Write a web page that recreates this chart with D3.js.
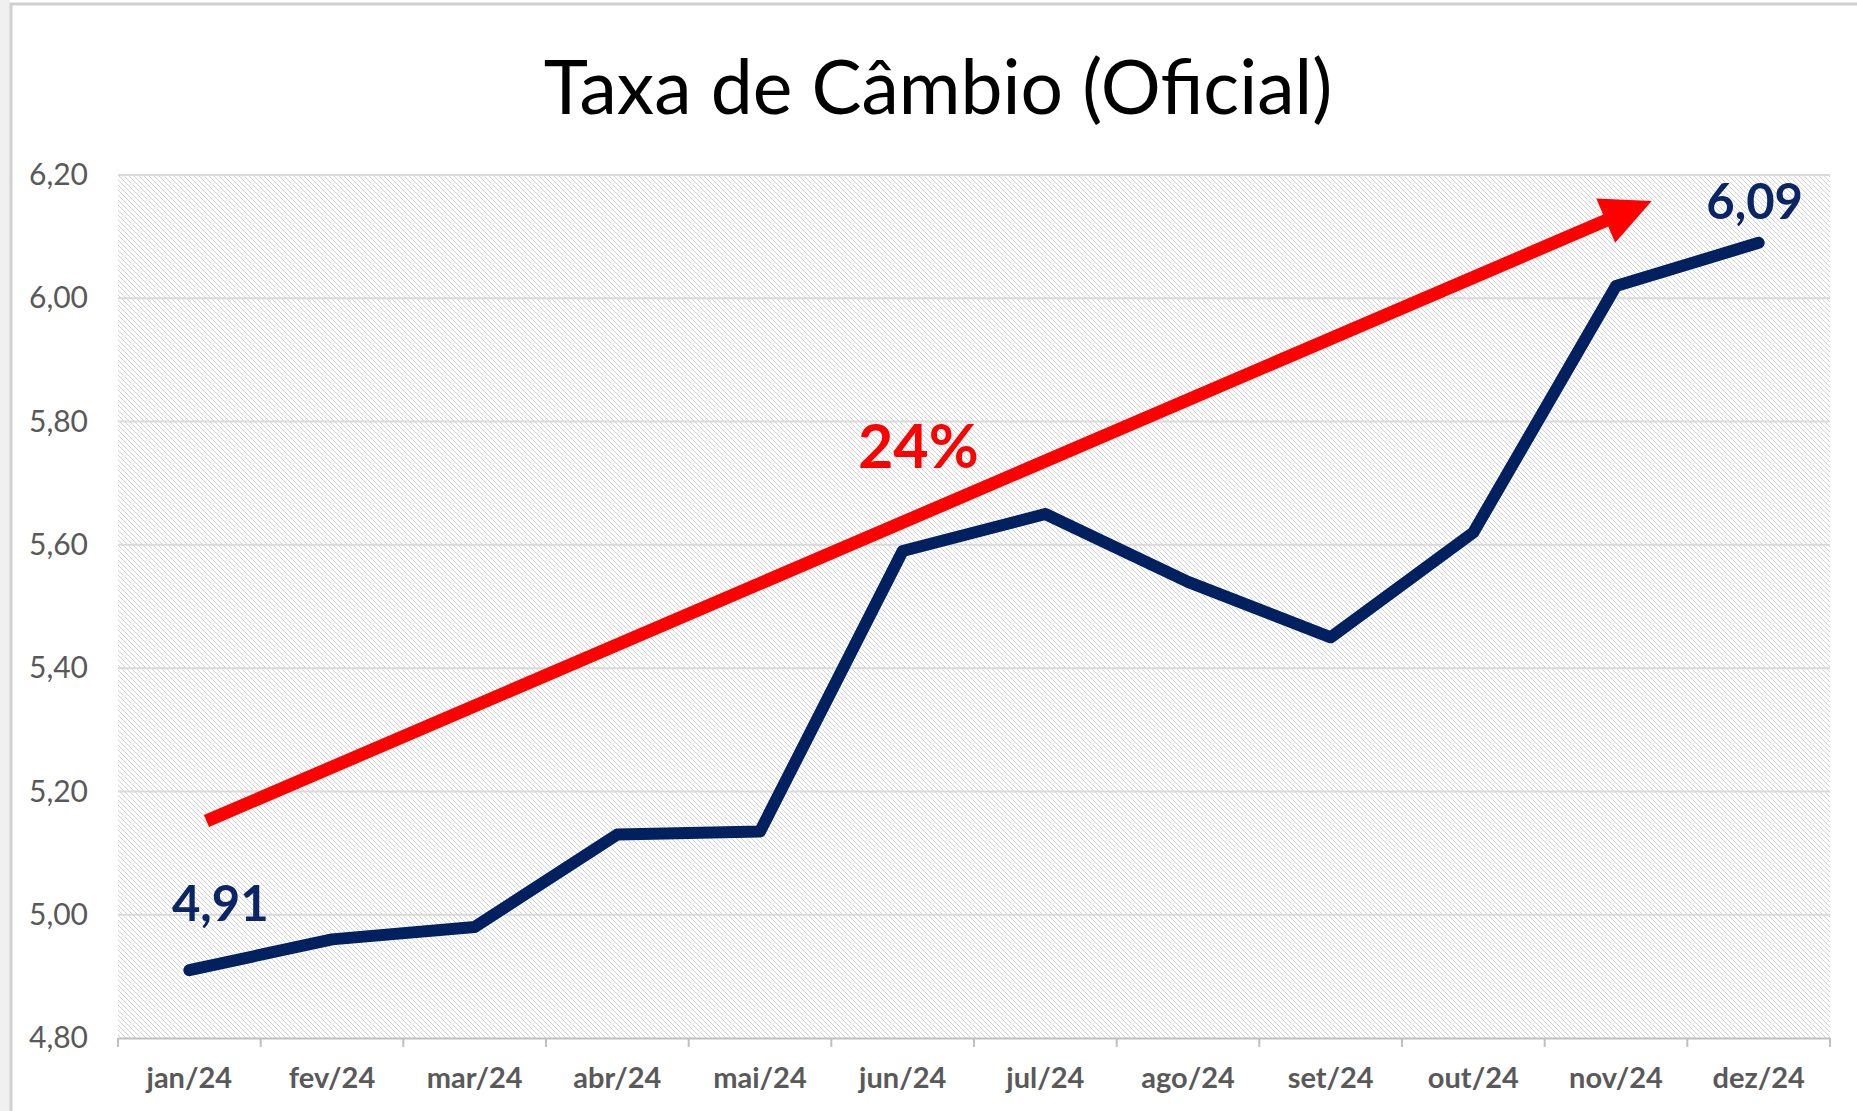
<!DOCTYPE html>
<html>
<head>
<meta charset="utf-8">
<script src="https://cdn.jsdelivr.net/npm/d3@7"></script>
<style>
  body { margin: 0; background: #fff; }
  svg { display: block; }
</style>
</head>
<body>
<svg id="chart" width="1857" height="1111"></svg>
<script>
// data
const months = ["jan/24", "fev/24", "mar/24", "abr/24", "mai/24", "jun/24",
                "jul/24", "ago/24", "set/24", "out/24", "nov/24", "dez/24"];
const rates = [4.91, 4.96, 4.98, 5.13, 5.135, 5.59, 5.65, 5.54, 5.45, 5.62, 6.02, 6.09];
const yTicks = [4.80, 5.00, 5.20, 5.40, 5.60, 5.80, 6.00, 6.20];

// trend arrow, in month index / value units
const arrowFrom = { i: 0.12, v: 5.152 };
const arrowTo = { i: 10.25, v: 6.158 };
const arrowText = { i: 5.11, v: 5.725, text: "24%" };

// labelled points
const pointLabels = [
  { i: 0, dx: 31, dy: -49 },
  { i: 11, dx: -4, dy: -24 }
];

const W = 1857, H = 1111;
const margin = { top: 175, right: 27, bottom: 73, left: 118 };
const iw = W - margin.left - margin.right;
const ih = H - margin.top - margin.bottom;
const font = "Lato, 'Open Sans', sans-serif";
const fmt = v => d3.format(".2f")(v).replace(".", ",");

const svg = d3.select("#chart");

// frame around the chart
svg.append("rect").attr("x", 0).attr("y", 0).attr("width", 10).attr("height", H).attr("fill", "#f0f0f0");
svg.append("rect").attr("x", 11).attr("y", 4).attr("width", W).attr("height", H)
  .attr("fill", "#fff").attr("stroke", "#d0d0d0").attr("stroke-width", 3);

// hatch pattern for the plot area
const defs = svg.append("defs");
const pat = defs.append("pattern").attr("id", "hatch")
  .attr("patternUnits", "userSpaceOnUse").attr("width", 5).attr("height", 5);
pat.append("rect").attr("width", 5).attr("height", 5).attr("fill", "#fff");
pat.append("path").attr("d", "M0,0L5,5M-1,4L1,6M4,-1L6,1")
  .attr("stroke", "#d2d2d2").attr("stroke-width", 1);

svg.append("text")
  .attr("x", 938).attr("y", 114)
  .attr("text-anchor", "middle")
  .attr("font-family", font).attr("font-size", 75)
  .attr("fill", "#000")
  .text("Taxa de Câmbio (Oficial)");

const g = svg.append("g").attr("transform", `translate(${margin.left},${margin.top})`);

const x = d3.scaleBand().domain(months).range([0, iw]).padding(0);
const xi = d3.scaleLinear().domain([-0.5, months.length - 0.5]).range([0, iw]);
const y = d3.scaleLinear().domain([4.8, 6.2]).range([ih, 0]);

g.append("rect").attr("width", iw).attr("height", ih).attr("fill", "url(#hatch)");

// gridlines
g.append("g").selectAll("line").data(yTicks.slice(1)).join("line")
  .attr("x1", 0).attr("x2", iw)
  .attr("y1", d => y(d)).attr("y2", d => y(d))
  .attr("stroke", "#d9d9d9").attr("stroke-width", 2);

// y axis labels
const yAxis = g.append("g")
  .call(d3.axisLeft(y).tickValues(yTicks).tickFormat(fmt).tickSize(0).tickPadding(30));
yAxis.select(".domain").remove();
yAxis.selectAll("text")
  .attr("font-family", font).attr("font-size", 30).attr("fill", "#595959");

// x axis
const xAxis = g.append("g").attr("transform", `translate(0,${ih})`)
  .call(d3.axisBottom(x).tickSize(0).tickPadding(29));
xAxis.select(".domain").attr("stroke", "#bfbfbf").attr("stroke-width", 2);
xAxis.selectAll("text")
  .attr("font-family", font).attr("font-size", 29).attr("font-weight", "bold").attr("fill", "#595959");
g.append("g").attr("transform", `translate(0,${ih})`)
  .selectAll("line").data(d3.range(months.length + 1)).join("line")
  .attr("x1", d => xi(d - 0.5)).attr("x2", d => xi(d - 0.5))
  .attr("y1", 0).attr("y2", 9)
  .attr("stroke", "#bfbfbf").attr("stroke-width", 2);

// trend arrow
const ax0 = xi(arrowFrom.i), ay0 = y(arrowFrom.v);
const ax1 = xi(arrowTo.i), ay1 = y(arrowTo.v);
const ang = Math.atan2(ay1 - ay0, ax1 - ax0);
const headLen = 50, headW = 24;
const bx = ax1 - headLen * Math.cos(ang), by = ay1 - headLen * Math.sin(ang);
g.append("line")
  .attr("x1", ax0).attr("y1", ay0).attr("x2", bx + 4 * Math.cos(ang)).attr("y2", by + 4 * Math.sin(ang))
  .attr("stroke", "#ff0000").attr("stroke-width", 13);
g.append("path")
  .attr("d", d3.line()([
    [ax1, ay1],
    [bx + headW * Math.sin(ang), by - headW * Math.cos(ang)],
    [bx - headW * Math.sin(ang), by + headW * Math.cos(ang)]
  ]) + "Z")
  .attr("fill", "#ff0000");

g.append("text")
  .attr("x", xi(arrowText.i)).attr("y", y(arrowText.v))
  .attr("text-anchor", "middle")
  .attr("font-family", font).attr("font-size", 61).attr("font-weight", "bold")
  .attr("fill", "#ff0000")
  .text(arrowText.text);

// series line
g.append("path")
  .datum(rates)
  .attr("d", d3.line().x((d, i) => x(months[i]) + x.bandwidth() / 2).y(d => y(d)))
  .attr("fill", "none")
  .attr("stroke", "#002060").attr("stroke-width", 12)
  .attr("stroke-linejoin", "round").attr("stroke-linecap", "round");

g.append("g").selectAll("text").data(pointLabels).join("text")
  .attr("x", d => x(months[d.i]) + x.bandwidth() / 2 + d.dx)
  .attr("y", d => y(rates[d.i]) + d.dy)
  .attr("text-anchor", "middle")
  .attr("font-family", font).attr("font-size", 49).attr("font-weight", "bold")
  .attr("fill", "#0b2466")
  .text(d => fmt(rates[d.i]));
</script>
</body>
</html>
